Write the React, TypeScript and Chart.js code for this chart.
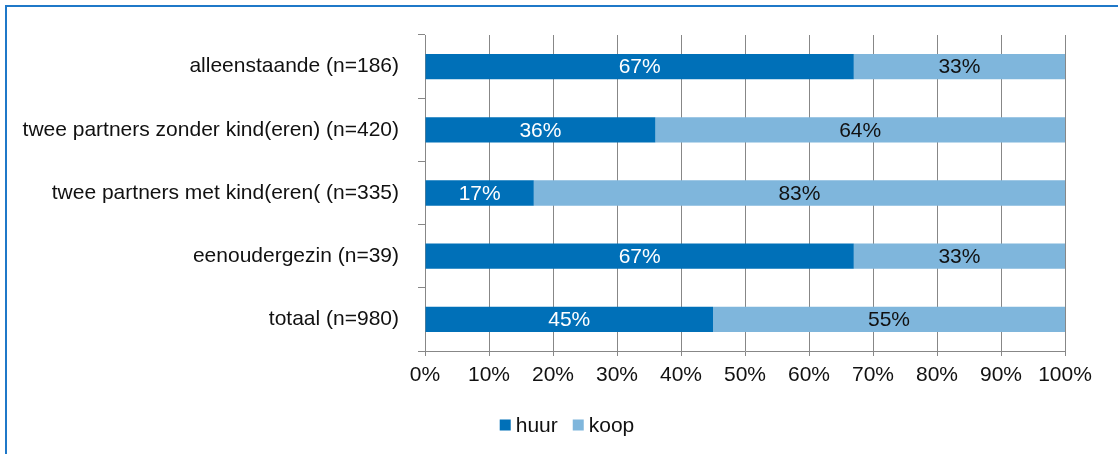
import React, { useEffect, useRef } from "react";
import { Chart, registerables } from "chart.js";

Chart.register(...registerables);

const categories = [
  "alleenstaande (n=186)",
  "twee partners zonder kind(eren) (n=420)",
  "twee partners met kind(eren( (n=335)",
  "eenoudergezin (n=39)",
  "totaal (n=980)",
];
const huur = [67, 36, 17, 67, 45];
const koop = [33, 64, 83, 33, 55];
const xTicks = [0, 10, 20, 30, 40, 50, 60, 70, 80, 90, 100];

const FONT = "'Liberation Sans', Arial, sans-serif";
const FONT_SIZE = 21;
const HUUR_COLOR = "#0070B8";
const KOOP_COLOR = "#7FB6DC";
const GRID_COLOR = "#878787";

// Percentage labels centred inside each stacked segment
const segmentLabels = {
  id: "segmentLabels",
  afterDatasetsDraw(chart: any) {
    const ctx = chart.ctx;
    ctx.save();
    ctx.font = `${FONT_SIZE}px ${FONT}`;
    ctx.textAlign = "center";
    ctx.textBaseline = "middle";
    chart.data.datasets.forEach((ds: any, di: number) => {
      const meta = chart.getDatasetMeta(di);
      ctx.fillStyle = di === 0 ? "#FFFFFF" : "#111111";
      meta.data.forEach((bar: any, i: number) => {
        const v = ds.data[i];
        const cx = (bar.x + bar.base) / 2;
        ctx.fillText(`${v}%`, cx, bar.y + 1);
      });
    });
    ctx.restore();
  },
};

// Compact legend: small square swatch followed closely by the label
const compactLegend = {
  id: "compactLegend",
  afterDraw(chart: any) {
    const ctx = chart.ctx;
    ctx.save();
    ctx.font = `${FONT_SIZE}px ${FONT}`;
    ctx.textBaseline = "middle";
    ctx.textAlign = "left";
    const box = 11;
    const gap = 5;
    const itemGap = 15;
    const items = chart.data.datasets.map((ds: any) => ({
      label: ds.label,
      color: ds.backgroundColor,
      w: ctx.measureText(ds.label).width,
    }));
    const total =
      items.reduce((s: number, it: any) => s + box + gap + it.w, 0) +
      itemGap * (items.length - 1);
    let x = 567 - total / 2;
    const cy = 425;
    items.forEach((it: any) => {
      ctx.fillStyle = it.color;
      ctx.fillRect(x, cy - box / 2, box, box);
      x += box + gap;
      ctx.fillStyle = "#111111";
      ctx.fillText(it.label, x, cy + 1);
      x += it.w + itemGap;
    });
    ctx.restore();
  },
};

export default function App() {
  const canvasRef = useRef<HTMLCanvasElement | null>(null);

  useEffect(() => {
    if (!canvasRef.current) return;
    const chart = new Chart(canvasRef.current, {
      type: "bar",
      data: {
        labels: categories,
        datasets: [
          {
            label: "huur",
            data: huur,
            backgroundColor: HUUR_COLOR,
            categoryPercentage: 0.4,
            barPercentage: 1,
          },
          {
            label: "koop",
            data: koop,
            backgroundColor: KOOP_COLOR,
            categoryPercentage: 0.4,
            barPercentage: 1,
          },
        ],
      },
      options: {
        indexAxis: "y",
        responsive: false,
        animation: false,
        layout: { padding: { top: 35, right: 53, bottom: 0, left: 0 } },
        plugins: {
          legend: { display: false },
          tooltip: { enabled: false },
          title: { display: false },
        },
        scales: {
          x: {
            stacked: true,
            min: 0,
            max: 100,
            afterFit: (scale: any) => {
              scale.height = 103;
            },
            afterBuildTicks: (scale: any) => {
              scale.ticks = xTicks.map((v) => ({ value: v }));
            },
            grid: {
              color: GRID_COLOR,
              lineWidth: 1,
              drawTicks: true,
              tickLength: 5,
            },
            border: { display: true, color: GRID_COLOR, width: 1 },
            ticks: {
              padding: 7,
              color: "#111111",
              font: { family: FONT, size: FONT_SIZE },
              maxRotation: 0,
              callback: (v: any) => `${v}%`,
            },
          },
          y: {
            stacked: true,
            afterFit: (scale: any) => {
              scale.width = 425;
            },
            grid: {
              drawOnChartArea: false,
              drawTicks: true,
              tickLength: 7,
              color: GRID_COLOR,
              lineWidth: 1,
            },
            border: { display: true, color: GRID_COLOR, width: 1 },
            ticks: {
              padding: 19,
              color: "#111111",
              font: { family: FONT, size: FONT_SIZE },
            },
          },
        },
      },
      plugins: [segmentLabels, compactLegend],
    });
    return () => chart.destroy();
  }, []);

  return (
    <div
      style={{
        position: "absolute",
        left: 0,
        top: 0,
        width: 1118,
        height: 454,
        overflow: "hidden",
        background: "#FFFFFF",
      }}
    >
      <div
        style={{
          position: "absolute",
          left: 5,
          top: 5,
          width: 1200,
          height: 600,
          border: "2px solid #1F78C8",
          boxSizing: "border-box",
        }}
      />
      <canvas
        ref={canvasRef}
        width={1118}
        height={454}
        style={{ position: "absolute", left: 0, top: 0 }}
      />
    </div>
  );
}
